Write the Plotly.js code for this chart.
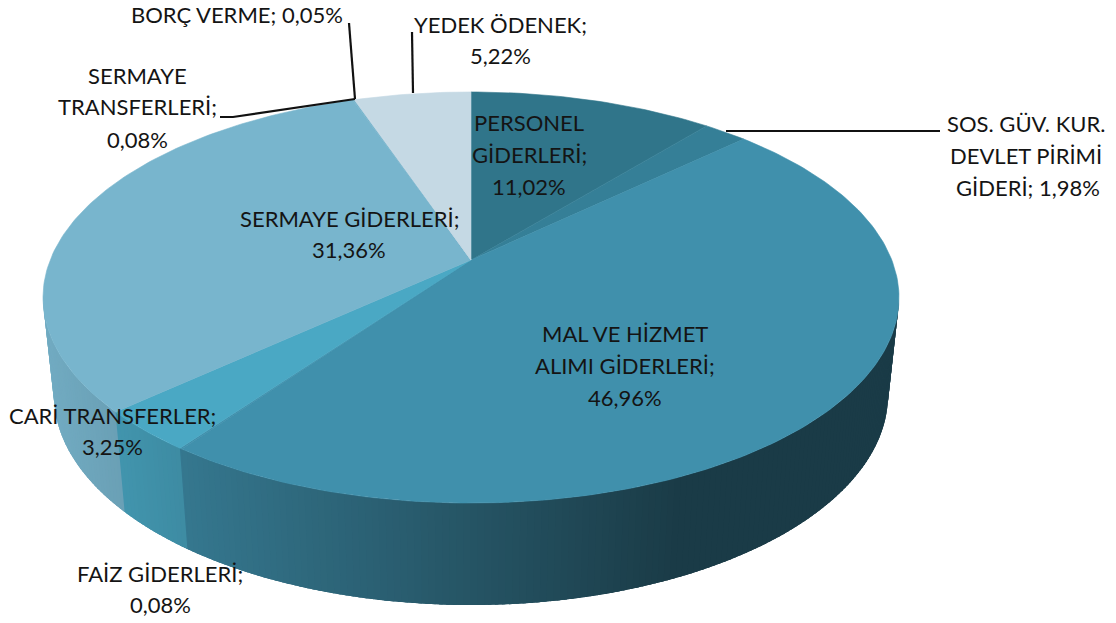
<!DOCTYPE html>
<html><head><meta charset="utf-8">
<script src="https://cdn.plot.ly/plotly-3.0.1.min.js"></script>
<style>html,body{margin:0;padding:0;background:#fff}#c{width:1116px;height:623px}</style>
</head><body><div id="c"></div>
<script>
const categories = ["PERSONEL GİDERLERİ","SOS. GÜV. KUR. DEVLET PİRİMİ GİDERİ","MAL VE HİZMET ALIMI GİDERLERİ","FAİZ GİDERLERİ","CARİ TRANSFERLER","SERMAYE GİDERLERİ","SERMAYE TRANSFERLERİ","BORÇ VERME","YEDEK ÖDENEK"];
const shares = [11.02,1.98,46.96,0.08,3.25,31.36,0.08,0.05,5.22];
const topColors = ["#30758a","#357f97","#4090ac","#4090ac","#4aa8c4","#78b5cd","#78b5cd","#c5d9e4","#c5d9e4"];

const labelText = [
 "BORÇ VERME; 0,05%","YEDEK ÖDENEK;","5,22%","SERMAYE","TRANSFERLERİ;","0,08%",
 "PERSONEL","GİDERLERİ;","11,02%","SERMAYE GİDERLERİ;","31,36%",
 "MAL VE HİZMET","ALIMI GİDERLERİ;","46,96%","CARİ TRANSFERLER;","3,25%",
 "FAİZ GİDERLERİ;","0,08%","SOS. GÜV. KUR.","DEVLET PİRİMİ","GİDERİ; 1,98%"];
const labelX = [237,500,500,137,137,137,529,529,529,349,349,625,625,625,112,112,160,160,1026,1026,1028];
const labelY = [14,24,55,75,106,139,122,154,186,218,249,333,365,397,415,446,573,604,123,155,187];
const leaders = [
 {x:[726,940],y:[131,131]},
 {x:[412,413],y:[32,93]},
 {x:[349,355],y:[23,99]},
 {x:[220,233,355],y:[117,117,99]}
];

// projection of the pie disc (perspective view)
const K=0.1825, CX=471;
const topFace={y0:260,a:198.7,b:420.8};
const botFace={y0:356.7,a:203,b:410};
function proj(f,deg){const t=deg*Math.PI/180,u=Math.sin(t),v=Math.cos(t),d=1+K*v;
  return [CX+f.b*u/d,f.y0-f.a*v/d];}
function arc(f,a0,a1,step){const p=[];const n=Math.max(1,Math.ceil(Math.abs(a1-a0)/step));
  for(let i=0;i<=n;i++)p.push(proj(f,a0+(a1-a0)*i/n));return p;}
function hex(c,s){const n=parseInt(c.slice(1),16);
  return `rgb(${Math.round((n>>16&255)*s)},${Math.round((n>>8&255)*s)},${Math.round((n&255)*s)})`;}
function shade(x){return Math.max(0.41,Math.min(0.95,0.83-(x-180)*0.00084));}
function poly(pts,color,w){const xs=pts.map(p=>p[0]),ys=pts.map(p=>p[1]);xs.push(xs[0]);ys.push(ys[0]);
  return {type:"scatter",mode:"lines",x:xs,y:ys,fill:"toself",fillcolor:color,
    line:{color:color,width:w},hoverinfo:"skip",showlegend:false};}

const traces=[];
const total=shares.reduce((s,v)=>s+v,0);
const SIDE0=100.5, SIDE1=259.5;
let acc=0;
const spans=shares.map(v=>{const a=acc;acc+=v;return [a/total*360,acc/total*360];});
// side wall: overlapping narrow strips carry the horizontal shading without seams
spans.forEach((sp,i)=>{
  const a0=Math.max(sp[0],SIDE0),a1=Math.min(sp[1],SIDE1);
  if(a1<=a0)return;
  const n=Math.max(1,Math.ceil((a1-a0)/0.8));
  for(let j=0;j<n;j++){
    const s0=a0+(a1-a0)*j/n,s1=a0+(a1-a0)*(j+1)/n,end=Math.min(SIDE1,s1+1.2);
    const pts=arc(topFace,s0,end,0.4).concat(arc(botFace,end,s0,0.4));
    traces.push(poly(pts,hex(topColors[i],shade(proj(topFace,(s0+s1)/2)[0])),0));
  }
});
// top face
spans.forEach((sp,i)=>{
  const pts=[[CX,topFace.y0]].concat(arc(topFace,sp[0],sp[1],1));
  traces.push(poly(pts,topColors[i],0.6));
});
leaders.forEach(l=>traces.push({type:"scatter",mode:"lines",x:l.x,y:l.y,
  line:{color:"#111",width:2.2},hoverinfo:"skip",showlegend:false}));

const annotations=labelText.map((t,i)=>({text:t,x:labelX[i],y:labelY[i],xref:"x",yref:"y",
  showarrow:false,xanchor:"center",yanchor:"middle",
  font:{family:"Lato, Carlito, sans-serif",size:22,color:"#141414"}}));

Plotly.newPlot("c",traces,{
  width:1116,height:623,margin:{l:0,r:0,t:0,b:0},
  paper_bgcolor:"#fff",plot_bgcolor:"#fff",showlegend:false,hovermode:false,
  xaxis:{range:[0,1116],visible:false,fixedrange:true},
  yaxis:{range:[623,0],visible:false,fixedrange:true},
  annotations
},{staticPlot:true,displayModeBar:false});
</script></body></html>
